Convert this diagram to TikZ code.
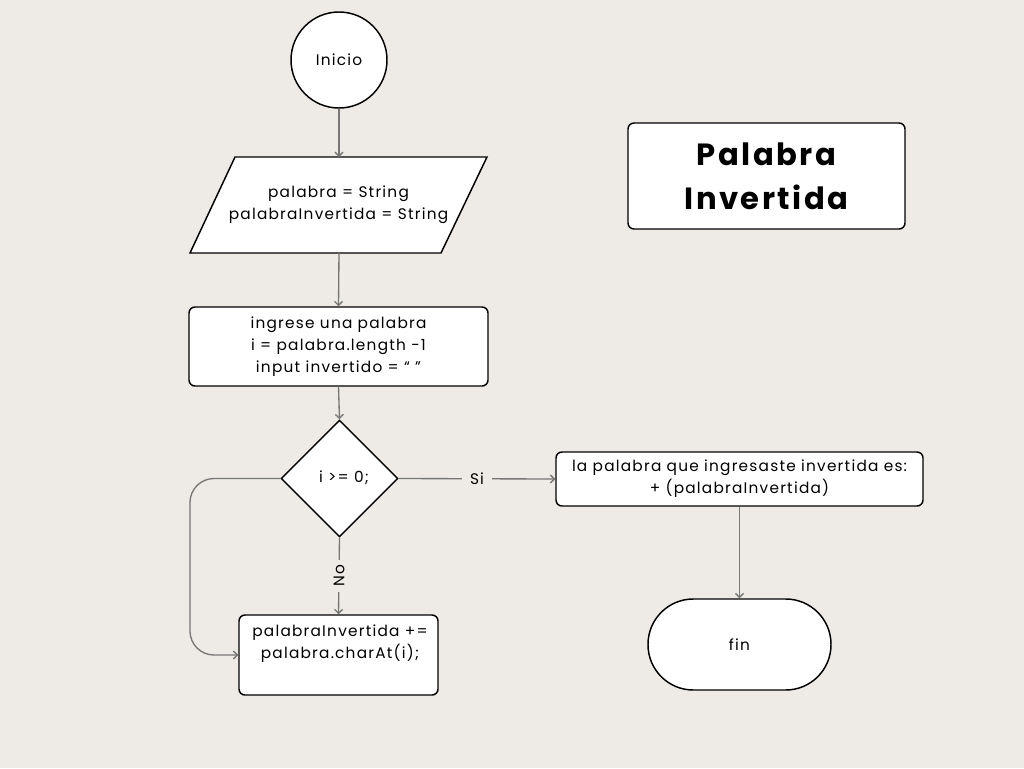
\documentclass[tikz,border=0pt]{standalone}
\usepackage{fontspec}
\setmainfont[LetterSpace=8]{Poppins}
\usetikzlibrary{shapes.geometric,arrows.meta}
\definecolor{bg}{HTML}{EEEBE6}
\definecolor{conn}{HTML}{767676}
\tikzset{
  box/.style={draw=black,fill=white,line width=1.1pt,rounded corners=4.5pt,inner sep=0pt},
  conn/.style={draw=conn,line width=1pt,-{Straight Barb[length=3pt,width=6pt]}},
  txt/.style={font=\fontsize{11.5}{16.5}\selectfont,align=center,inner sep=0pt},
}
\begin{document}
\begin{tikzpicture}[x=0.75pt,y=-0.75pt]
\useasboundingbox[fill=bg] (0,0) rectangle (1024,768);
% start
\node[draw=black,fill=white,line width=1.1pt,circle,minimum size=72pt,inner sep=0pt,txt] (ini) at (339,60) {Inicio};
% parallelogram
\draw[black,fill=white,line width=1.1pt,line join=miter] (235,157) -- (487,157) -- (441,253) -- (190,253) -- cycle;
\node[txt,minimum width=222pt,minimum height=72pt] (par) at (338.5,205) {palabra = String\\palabraInvertida = String};
% input box
\node[box,txt,minimum width=224.25pt,minimum height=59.25pt] (inp) at (338.5,346.5) {ingrese una palabra\\i = palabra.length -1\\input invertido = “ ”};
% decision
\node[draw=black,fill=white,line width=1.1pt,diamond,minimum width=87.75pt,minimum height=87.75pt,inner sep=0pt,aspect=1] (dia) at (339.5,478.5) {};
\node[txt] (diat) at (344,478) {i >= 0;};
% output box
\node[box,txt,minimum width=275.25pt,minimum height=40.5pt] (out) at (739.5,479) {la palabra que ingresaste invertida es:\\+ (palabraInvertida)};
% end
\node[draw=black,fill=white,line width=1.1pt,rounded corners=34pt,minimum width=137.25pt,minimum height=68.25pt,inner sep=0pt,txt] (fin) at (739.5,644.5) {fin};
% loop box
\node[box,minimum width=149.25pt,minimum height=60pt] (loop) at (338.5,655) {};
\node[txt] (loopt) at (340,644) {palabraInvertida +=\\palabra.charAt(i);};
% title
\node[box,minimum width=207.75pt,minimum height=79.5pt,align=center,font=\fontsize{23}{33}\bfseries\selectfont] (title) at (766.5,176) {Palabra\\Invertida};
% connectors
\draw[conn] (ini) -- (339,157);
\draw[conn] (339,253) -- (inp.north);
\draw[conn] (inp.south) -- (dia.north);
\draw[conn] (dia.east) -- node[fill=bg,txt,inner xsep=6pt,inner ysep=2pt] (si) {Si} (out.west);
\draw[conn] (dia.south) -- node[fill=bg,txt,rotate=90,inner xsep=4pt,inner ysep=2pt] (no) {No} (loop.north);
\draw[conn] (out.south) -- (fin.north);
\coordinate (lp) at (190,655);
\draw[conn,rounded corners=18pt] (dia.west) -| (lp) -- (loop.west);
\end{tikzpicture}
\end{document}
